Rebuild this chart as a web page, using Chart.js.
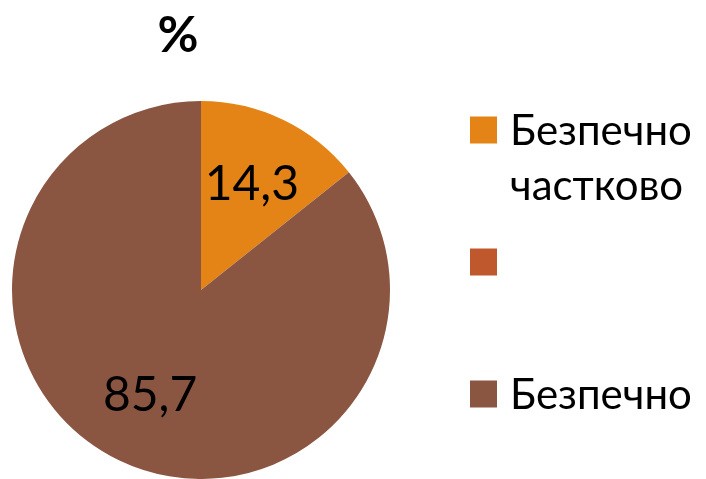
<!DOCTYPE html>
<html>
<head>
<meta charset="utf-8">
<script src="https://cdn.jsdelivr.net/npm/chart.js@4"></script>
<style>
html,body{margin:0;padding:0;background:#fff;}
#wrap{width:706px;height:479px;position:relative;}
</style>
</head>
<body>
<div id="wrap"><canvas id="c" width="706" height="479"></canvas></div>
<script>
const chartTitle = "%";
const categories = [["Безпечно", "частково"], [""], ["Безпечно"]];
const values = [14.3, 0, 85.7];
const valueLabels = ["14,3", "", "85,7"];
const colors = ["#E58416", "#C0582E", "#8A5641"];

const FONT = "Lato, 'Open Sans', sans-serif";

const overlay = {
  id: 'overlay',
  afterDatasetsDraw(chart) {
    const ctx = chart.ctx;
    const meta = chart.getDatasetMeta(0);
    ctx.save();
    // value labels
    ctx.fillStyle = '#000';
    ctx.font = "48px " + FONT;
    ctx.textAlign = 'center';
    ctx.textBaseline = 'middle';
    meta.data.forEach((arc, i) => {
      if (!valueLabels[i]) return;
      const p = arc.getProps(['x','y','startAngle','endAngle','outerRadius'], true);
      const mid = (p.startAngle + p.endAngle) / 2;
      const r = p.outerRadius * 0.62;
      ctx.fillText(valueLabels[i], p.x + Math.cos(mid) * r, p.y + Math.sin(mid) * r);
    });
    // title
    ctx.font = "bold 50px " + FONT;
    ctx.textBaseline = 'alphabetic';
    ctx.fillText(chartTitle, 178, 52);
    // legend
    ctx.textAlign = 'left';
    ctx.font = "42px " + FONT;
    const x0 = 470, yc0 = 130, step = 132, sq = 27, lineH = 55;
    categories.forEach((lines, i) => {
      const yc = yc0 + i * step;
      ctx.fillStyle = colors[i];
      ctx.fillRect(x0, yc - sq / 2, sq, sq);
      ctx.fillStyle = '#000';
      lines.forEach((t, j) => {
        ctx.fillText(t, 510, yc + 15 + j * lineH);
      });
    });
    ctx.restore();
  }
};

new Chart(document.getElementById('c'), {
  type: 'pie',
  data: {
    labels: categories.map(l => l.join(' ')),
    datasets: [{
      data: values,
      backgroundColor: colors,
      borderWidth: 0
    }]
  },
  options: {
    responsive: false,
    animation: false,
    layout: { padding: { left: 11, top: 101, right: 315, bottom: 0 } },
    plugins: {
      legend: { display: false },
      title: { display: false },
      tooltip: { enabled: false }
    }
  },
  plugins: [overlay]
});
</script>
</body>
</html>
